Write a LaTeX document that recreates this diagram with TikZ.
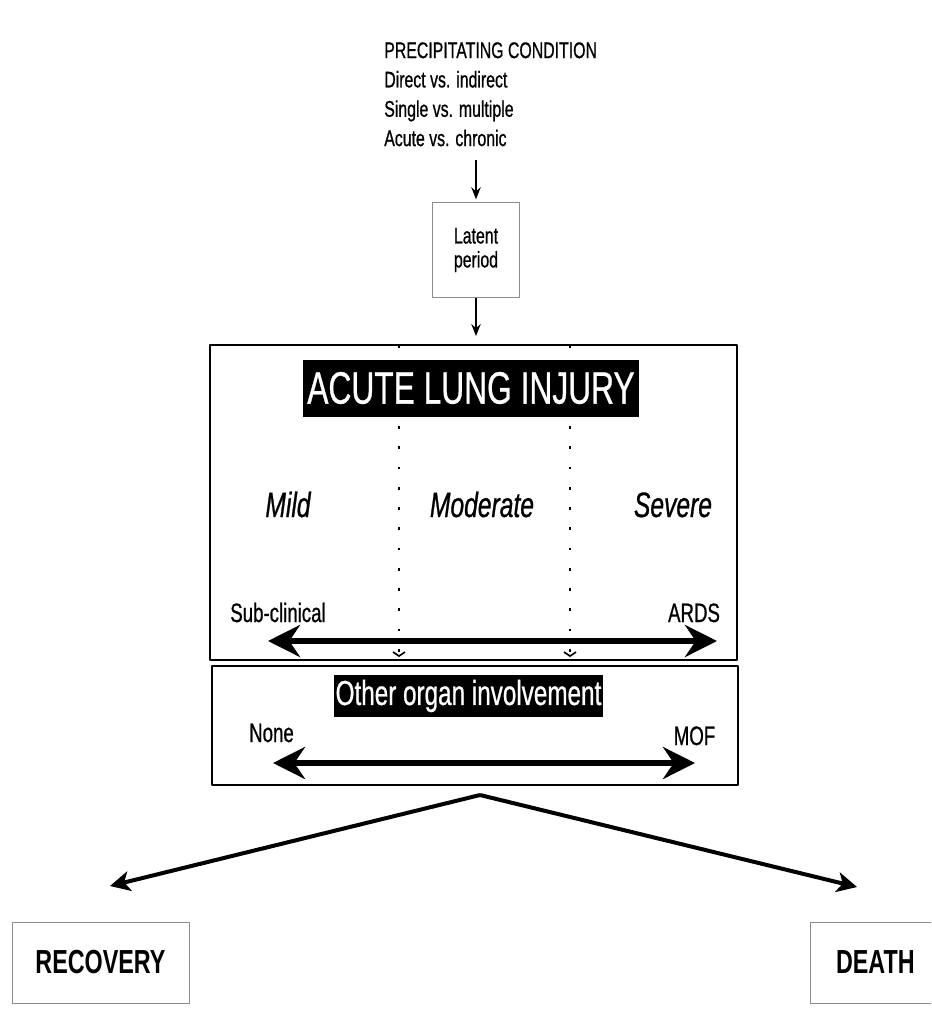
\documentclass[tikz,border=0pt]{standalone}
\usepackage{fontspec}
\setmainfont{Liberation Sans}[FakeStretch=0.7,
  UprightFeatures={FakeBold=0.7}, ItalicFeatures={FakeBold=0.7}]
\usetikzlibrary{arrows.meta}

\newcommand\setfs[2]{\fontsize{#1pt}{#2pt}\selectfont}

\begin{document}
\begin{tikzpicture}[x=0.75pt, y=-0.75pt, line join=round,
    txt/.style={inner sep=0pt, anchor=base},
    mainbox/.style={draw, line width=1.3pt, inner sep=0pt},
    faintbox/.style={draw=black!45, line width=0.7pt, inner sep=0pt},
    darklabel/.style={fill=black, text=white, inner xsep=1pt, inner ysep=0pt},
    thinarrow/.style={-{Stealth[length=9pt,width=7pt]}, line width=1.5pt},
    bigarrow/.style={{Stealth[length=24pt,width=24pt,inset=8pt]}-{Stealth[length=24pt,width=24pt,inset=8pt]}, line width=5pt},
    branch/.style={-{Stealth[length=15pt,width=15pt,inset=4pt]}, line width=3pt},
    divider/.style={dash pattern=on 2pt off 13.2pt, line width=1pt,
      -{Straight Barb[length=3pt,width=9pt,line width=1.2pt]}}]
    \clip (0,0) rectangle (931,1013);
    \fill[white] (0,0) rectangle (931,1013);

    % precipitating condition and latent period
    \node[inner sep=0pt, anchor=north west, align=left, font=\setfs{17}{22}] (prec) at (384,42)
      {PRECIPITATING CONDITION\\Direct vs. indirect\\Single vs. multiple\\Acute vs. chronic};
    \node[faintbox, minimum width=65.25pt, minimum height=71.25pt, align=center,
      font=\setfs{17}{18}] (latent) at (476,250) {Latent\\period};
    \draw[thinarrow, shorten <=10pt, shorten >=2pt] (prec.south -| latent.north) -- (latent.north);

    % acute lung injury box
    \node[mainbox, minimum width=395.25pt, minimum height=236.25pt] (ali) at (473.5,502.5) {};
    \draw[thinarrow, shorten >=6pt] (latent.south) -- (latent.south |- ali.north);
    \foreach \x in {399,570} {
      \draw[divider] (\x,345) -- (\x,657);
    }
    \node[darklabel, minimum width=252pt, minimum height=42.75pt, font=\setfs{34}{40}]
      (alititle) at (471,388) {ACUTE LUNG INJURY};
    \foreach \name/\x/\word in {mild/288/Mild, moderate/482/Moderate, severe/673/Severe} {
      \node[txt, font=\setfs{26.4}{30}\itshape] (\name) at (\x,517) {\word};
    }
    \node[txt, font=\setfs{20}{24}] (subclin) at (278,622) {Sub-clinical};
    \node[txt, font=\setfs{20}{24}] (ards) at (694,622) {ARDS};
    \coordinate (sevleft) at (268,641);
    \coordinate (sevright) at (717,641);
    \draw[bigarrow] (sevleft) -- (sevright);

    % other organ involvement box
    \node[mainbox, minimum width=394.5pt, minimum height=89.25pt] (organ) at (475,725.5) {};
    \node[darklabel, minimum width=199.5pt, minimum height=31.5pt, font=\setfs{26}{30}]
      (organtitle) at (468.5,696) {Other organ involvement};
    \node[txt, font=\setfs{20}{24}] (none) at (271.5,742) {None};
    \node[txt, font=\setfs{20}{24}] (mof) at (694.5,745) {MOF};
    \coordinate (orgleft) at (273,763);
    \coordinate (orgright) at (695,763);
    \draw[bigarrow] (orgleft) -- (orgright);

    % outcomes
    \node[faintbox, minimum width=132.75pt, minimum height=60.75pt,
      font=\setfs{25}{30}\bfseries] (recovery) at (100.5,962.5) {RECOVERY};
    \node[faintbox, minimum width=105pt, minimum height=60.75pt, text width=90pt,
      align=left, font=\setfs{25}{30}\bfseries] (death) at (880,962.5) {\hspace*{12pt}DEATH};
    \coordinate (fork) at (480,795);
    \coordinate (toleft) at (110,886);
    \coordinate (toright) at (857,887);
    \draw[branch] (fork) -- (toleft);
    \draw[branch] (fork) -- (toright);
  \end{tikzpicture}
\end{document}
